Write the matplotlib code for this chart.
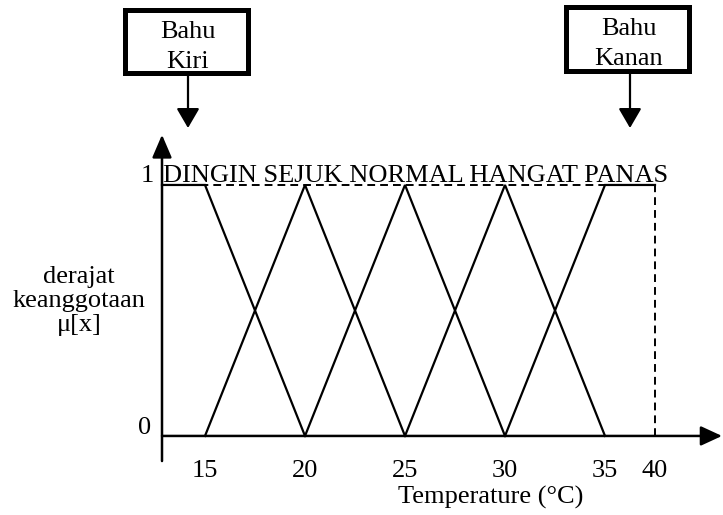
import numpy as np
import matplotlib.pyplot as plt
from matplotlib.patches import Rectangle, FancyArrowPatch, ArrowStyle

# membership sets (temperature in degC)
categories = ["DINGIN", "SEJUK", "NORMAL", "HANGAT", "PANAS"]
x_origin = 12.85
mf_x = [[x_origin, 15, 20], [15, 20, 25], [20, 25, 30], [25, 30, 35], [30, 35, 40]]
mf_y = [[1, 1, 0], [0, 1, 0], [0, 1, 0], [0, 1, 0], [0, 1, 1]]
xticks = [15, 20, 25, 30, 35, 40]
tick_labels = ["15", "20", "25", "30", "35", "40"]
callouts = [("Bahu", "Kiri"), ("Bahu", "Kanan")]

plt.rcParams['font.family'] = ['Liberation Serif', 'DejaVu Serif']
FS = 19

fig = plt.figure(figsize=(7.23, 5.15), dpi=100)
ax = fig.add_axes([0, 0, 1, 1])


# the drawing squeezes 35..40 into half the width of the other intervals
def fwd(x):
    x = np.asarray(x, dtype=float)
    return np.where(x <= 35, x, 35 + (x - 35) * 0.5)


def inv(x):
    x = np.asarray(x, dtype=float)
    return np.where(x <= 35, x, 35 + (x - 35) * 2)


ax.set_xscale('function', functions=(fwd, inv))
ax.set_xlim(4.75, 46.8)
ax.set_ylim(-0.315, 1.737)
ax.axis('off')


def px(x, y):
    # pixel position -> axes fraction
    return (x / 723, 1 - y / 515)


# dashed guide lines
ax.plot([x_origin, 40], [1, 1], color='k', lw=1.4, dashes=(4, 2.6))
ax.plot([40, 40], [0, 1], color='k', lw=1.4, dashes=(4, 2.6))

# membership functions
for xs, ys in zip(mf_x, mf_y):
    ax.plot(xs, ys, color='k', lw=1.6, solid_joinstyle='miter')

# axes with arrow heads
ax.add_patch(FancyArrowPatch((x_origin, -0.1), (x_origin, 1.2),
                             arrowstyle=ArrowStyle('-|>', head_length=14, head_width=6),
                             mutation_scale=1, lw=1.8, color='k', shrinkA=0, shrinkB=0))
ax.add_patch(FancyArrowPatch((x_origin, 0), (46.7, 0),
                             arrowstyle=ArrowStyle('-|>', head_length=13, head_width=6),
                             mutation_scale=1, lw=1.8, color='k', shrinkA=0, shrinkB=0))

# tick labels
for t, lab in zip(xticks, tick_labels):
    ax.text(t, -0.14, lab, ha='center', va='center', fontsize=FS)
ax.text(x_origin - 0.75, 1.035, "1", ha='center', va='center', fontsize=FS)
ax.text(x_origin - 0.85, 0.03, "0", ha='center', va='center', fontsize=FS)

# set names
ax.text(x_origin + 0.03, 1.035, " ".join(categories), ha='left', va='center', fontsize=FS)

# axis titles
ax.text(*px(491, 497), "Temperature (°C)", transform=ax.transAxes,
        ha='center', va='center', fontsize=FS)
ax.text(*px(79, 301), "derajat\nkeanggotaan\nμ[x]", transform=ax.transAxes,
        ha='center', va='center', fontsize=FS, linespacing=1.13)

# callout boxes
boxes = [(125, 10, 248, 73, 188), (566, 7, 689, 71, 630)]
for (x0, y0, x1, y1, xa), (top, bottom) in zip(boxes, callouts):
    bx, by = px(x0, y1)
    bw = (x1 - x0) / 723
    bh = (y1 - y0) / 515
    ax.add_patch(Rectangle((bx, by), bw, bh, transform=ax.transAxes,
                           fill=False, lw=3.6, ec='k'))
    xc = (x0 + x1) / 2 + 1
    ax.text(*px(xc, y0 + 22), top, transform=ax.transAxes,
            ha='center', va='center', fontsize=FS, zorder=5)
    ax.text(*px(xc, y0 + 52), bottom, transform=ax.transAxes,
            ha='center', va='center', fontsize=FS, zorder=5)
    ax.add_patch(FancyArrowPatch(px(xa, y1), px(xa, 128), transform=ax.transAxes,
                                 arrowstyle=ArrowStyle('-|>', head_length=12, head_width=7),
                                 mutation_scale=1, lw=1.6, color='k', shrinkA=0, shrinkB=0))

fig.savefig("out.png", dpi=100)
